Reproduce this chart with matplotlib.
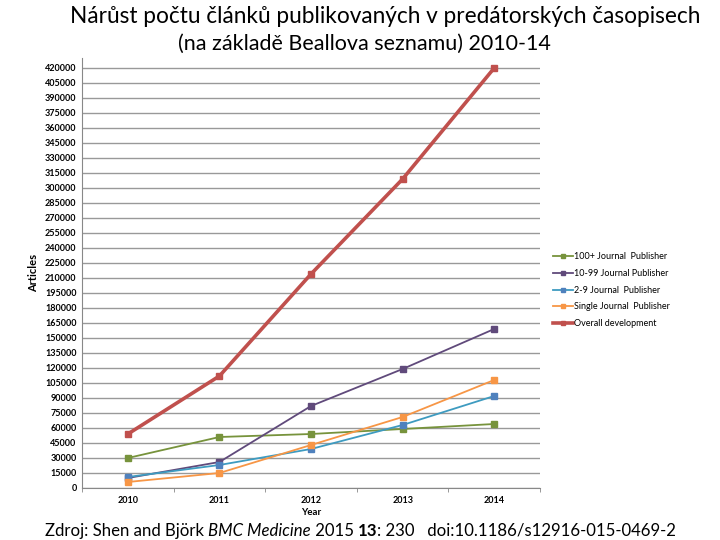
"""Growth of articles in predatory journals (Beall's list) 2010-14."""

import matplotlib
matplotlib.use("Agg")
import matplotlib.pyplot as plt
from matplotlib.ticker import MultipleLocator, FixedLocator

plt.rcParams["font.family"] = ["Lato", "DejaVu Sans"]

years = ["2010", "2011", "2012", "2013", "2014"]
series_names = [
    "100+ Journal  Publisher",
    "10-99 Journal Publisher",
    "2-9 Journal  Publisher",
    "Single Journal  Publisher",
    "Overall development",
]
publisher_100 = [30000, 51000, 54000, 59000, 64000]
publisher_10_99 = [10000, 26000, 82000, 119000, 159000]
publisher_2_9 = [11000, 23000, 39000, 63000, 92000]
publisher_single = [6000, 15000, 43000, 71000, 108000]
overall = [54000, 112000, 214000, 309000, 420000]

line_colors = ["#77933C", "#604A7B", "#3E9BC0", "#F79646", "#C0504D"]
marker_colors = ["#77933C", "#604A7B", "#4F81BD", "#F79646", "#C0504D"]
widths = [1.3, 1.3, 1.3, 1.3, 2.6]

fig = plt.figure(figsize=(7.2, 5.4), dpi=100)
ax = fig.add_axes([0.114, 0.0963, 0.636, 0.7963])

x = list(range(len(years)))
all_series = [publisher_100, publisher_10_99, publisher_2_9, publisher_single, overall]
for vals, name, lc, mc, lw in zip(all_series, series_names, line_colors, marker_colors, widths):
    ax.plot(x, vals, color=lc, linewidth=lw, marker="s", markersize=4,
            markerfacecolor=mc, markeredgecolor=mc, label=name)

ax.set_xlim(-0.5, len(years) - 0.5)
ax.set_ylim(0, 430000)
ax.yaxis.set_major_locator(FixedLocator(range(0, 420001, 15000)))
ax.set_xticks(x)
ax.set_xticklabels(years)
ax.xaxis.set_minor_locator(MultipleLocator(1.0, offset=0.5))
ax.tick_params(axis="x", which="major", length=0, labelsize=6.5, pad=6)
ax.tick_params(axis="x", which="minor", length=3, color="#888888")
ax.tick_params(axis="y", length=0, labelsize=6.5, pad=4)
for lab in ax.get_xticklabels() + ax.get_yticklabels():
    lab.set_fontweight("bold")

ax.grid(axis="y", color="#999999", linewidth=1.0)
ax.set_axisbelow(True)
for side in ["top", "right"]:
    ax.spines[side].set_visible(False)
ax.spines["left"].set_color("#888888")
ax.spines["bottom"].set_color("#888888")

ax.set_ylabel("Articles", fontsize=8, fontweight="bold", labelpad=4)
ax.set_xlabel("Year", fontsize=7, fontweight="bold", labelpad=2)

ax.legend(loc="center left", bbox_to_anchor=(1.01, 0.46), frameon=False,
          fontsize=6.5, handlelength=2.2, handletextpad=0.2, labelspacing=0.85,
          markerscale=0.6)

fig.text(0.535, 0.97, "Nárůst počtu článků publikovaných v predátorských časopisech",
         ha="center", va="center", fontsize=16.3)
fig.text(0.506, 0.918, "(na základě Beallova seznamu) 2010-14",
         ha="center", va="center", fontsize=15.5)

base_y = 0.008
t1 = fig.text(0.062, base_y, "Zdroj: Shen and Björk ", fontsize=12.1, va="baseline")
t2 = fig.text(0, 0, "BMC Medicine", fontsize=12.1, style="italic")
t3 = fig.text(0, 0, " 2015 ", fontsize=12.1)
t4 = fig.text(0, 0, "13", fontsize=12.1, fontweight="bold")
t5 = fig.text(0, 0, ": 230   doi:10.1186/s12916-015-0469-2", fontsize=12.1)
fig.canvas.draw()
prev = t1
for t in [t2, t3, t4, t5]:
    bb = prev.get_window_extent()
    x0, _ = fig.transFigure.inverted().transform((bb.x1, bb.y0))
    t.set_position((x0, base_y))
    t.set_va("baseline")
    fig.canvas.draw()
    prev = t

fig.savefig("out.png", dpi=100)
